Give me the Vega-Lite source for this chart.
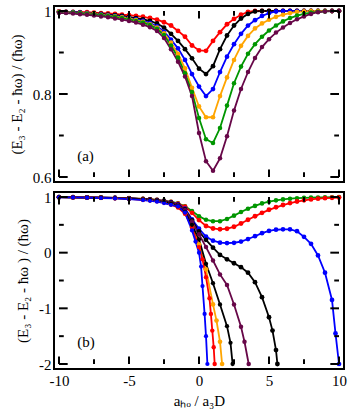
{
  "$schema": "https://vega.github.io/schema/vega-lite/v6.json",
  "padding": {"left": 8, "top": 2, "right": 0, "bottom": 0},
  "spacing": 10,
  "bounds": "flush",
  "config": {
    "view": {"stroke": "black", "strokeWidth": 2},
    "axis": {"domain": false, "grid": false, "ticks": false, "tickSize": 0, "labelFont": "Liberation Serif", "labelFontSize": 15, "labelColor": "black", "titleFont": "Liberation Serif", "titleFontSize": 15, "titleFontWeight": "normal", "titleColor": "black", "labelFlush": false, "labelOverlap": false, "labelBound": false}
  },
  "datasets": {
    "xt": [{"v":-10,"m":1},{"v":-7.5,"m":0},{"v":-5,"m":1},{"v":-2.5,"m":0},{"v":0,"m":1},{"v":2.5,"m":0},{"v":5,"m":1},{"v":7.5,"m":0},{"v":10,"m":1}],
    "ytA": [{"v":0.6,"m":1},{"v":0.7,"m":0},{"v":0.8,"m":1},{"v":0.9,"m":0},{"v":1,"m":1}],
    "ytB": [{"v":-2,"m":1},{"v":-1.5,"m":0},{"v":-1,"m":1},{"v":-0.5,"m":0},{"v":0,"m":1},{"v":0.5,"m":0},{"v":1,"m":1}],
    "top": [
      {"c":"red","x":-10,"y":0.999},{"c":"red","x":-9.5,"y":0.998},{"c":"red","x":-9,"y":0.998},{"c":"red","x":-8.5,"y":0.997},{"c":"red","x":-8,"y":0.997},{"c":"red","x":-7.5,"y":0.996},{"c":"red","x":-7,"y":0.995},{"c":"red","x":-6.5,"y":0.994},{"c":"red","x":-6,"y":0.993},{"c":"red","x":-5.5,"y":0.991},{"c":"red","x":-5,"y":0.990},{"c":"red","x":-4.5,"y":0.988},{"c":"red","x":-4,"y":0.986},{"c":"red","x":-3.5,"y":0.983},{"c":"red","x":-3,"y":0.979},{"c":"red","x":-2.5,"y":0.973},{"c":"red","x":-2,"y":0.965},{"c":"red","x":-1.5,"y":0.952},{"c":"red","x":-1,"y":0.938},{"c":"red","x":-0.5,"y":0.917},{"c":"red","x":0,"y":0.905},{"c":"red","x":0.5,"y":0.904},{"c":"red","x":1,"y":0.928},{"c":"red","x":1.5,"y":0.949},{"c":"red","x":2,"y":0.968},{"c":"red","x":2.5,"y":0.981},{"c":"red","x":3,"y":0.991},{"c":"red","x":3.5,"y":0.998},{"c":"red","x":4,"y":1},{"c":"red","x":4.5,"y":1},{"c":"red","x":5,"y":1},{"c":"red","x":5.5,"y":1},{"c":"red","x":6,"y":1},{"c":"red","x":6.5,"y":1},{"c":"red","x":7,"y":1},{"c":"red","x":7.5,"y":1},{"c":"red","x":8,"y":1},{"c":"red","x":8.5,"y":1},{"c":"red","x":9,"y":1},{"c":"red","x":9.5,"y":1},{"c":"red","x":10,"y":1},
      {"c":"black","x":-10,"y":0.998},{"c":"black","x":-9.5,"y":0.998},{"c":"black","x":-9,"y":0.997},{"c":"black","x":-8.5,"y":0.996},{"c":"black","x":-8,"y":0.995},{"c":"black","x":-7.5,"y":0.994},{"c":"black","x":-7,"y":0.993},{"c":"black","x":-6.5,"y":0.991},{"c":"black","x":-6,"y":0.990},{"c":"black","x":-5.5,"y":0.988},{"c":"black","x":-5,"y":0.985},{"c":"black","x":-4.5,"y":0.983},{"c":"black","x":-4,"y":0.980},{"c":"black","x":-3.5,"y":0.976},{"c":"black","x":-3,"y":0.970},{"c":"black","x":-2.5,"y":0.960},{"c":"black","x":-2,"y":0.945},{"c":"black","x":-1.5,"y":0.928},{"c":"black","x":-1,"y":0.908},{"c":"black","x":-0.5,"y":0.886},{"c":"black","x":0,"y":0.861},{"c":"black","x":0.5,"y":0.848},{"c":"black","x":1,"y":0.867},{"c":"black","x":1.5,"y":0.908},{"c":"black","x":2,"y":0.941},{"c":"black","x":2.5,"y":0.965},{"c":"black","x":3,"y":0.982},{"c":"black","x":3.5,"y":0.993},{"c":"black","x":4,"y":0.999},{"c":"black","x":4.5,"y":1},{"c":"black","x":5,"y":1},{"c":"black","x":5.5,"y":1},{"c":"black","x":6,"y":1},{"c":"black","x":6.5,"y":1},{"c":"black","x":7,"y":1},{"c":"black","x":7.5,"y":1},{"c":"black","x":8,"y":1},{"c":"black","x":8.5,"y":1},{"c":"black","x":9,"y":1},{"c":"black","x":9.5,"y":1},{"c":"black","x":10,"y":1},
      {"c":"blue","x":-10,"y":0.998},{"c":"blue","x":-9.5,"y":0.997},{"c":"blue","x":-9,"y":0.997},{"c":"blue","x":-8.5,"y":0.996},{"c":"blue","x":-8,"y":0.995},{"c":"blue","x":-7.5,"y":0.993},{"c":"blue","x":-7,"y":0.992},{"c":"blue","x":-6.5,"y":0.990},{"c":"blue","x":-6,"y":0.988},{"c":"blue","x":-5.5,"y":0.986},{"c":"blue","x":-5,"y":0.983},{"c":"blue","x":-4.5,"y":0.980},{"c":"blue","x":-4,"y":0.976},{"c":"blue","x":-3.5,"y":0.971},{"c":"blue","x":-3,"y":0.963},{"c":"blue","x":-2.5,"y":0.950},{"c":"blue","x":-2,"y":0.931},{"c":"blue","x":-1.5,"y":0.910},{"c":"blue","x":-1,"y":0.882},{"c":"blue","x":-0.5,"y":0.848},{"c":"blue","x":0,"y":0.818},{"c":"blue","x":0.5,"y":0.795},{"c":"blue","x":1,"y":0.812},{"c":"blue","x":1.5,"y":0.853},{"c":"blue","x":2,"y":0.890},{"c":"blue","x":2.5,"y":0.920},{"c":"blue","x":3,"y":0.945},{"c":"blue","x":3.5,"y":0.965},{"c":"blue","x":4,"y":0.978},{"c":"blue","x":4.5,"y":0.988},{"c":"blue","x":5,"y":0.995},{"c":"blue","x":5.5,"y":0.999},{"c":"blue","x":6,"y":1},{"c":"blue","x":6.5,"y":1},{"c":"blue","x":7,"y":1},{"c":"blue","x":7.5,"y":1},{"c":"blue","x":8,"y":1},{"c":"blue","x":8.5,"y":1},{"c":"blue","x":9,"y":1},{"c":"blue","x":9.5,"y":1},{"c":"blue","x":10,"y":1},
      {"c":"orange","x":-10,"y":0.998},{"c":"orange","x":-9.5,"y":0.997},{"c":"orange","x":-9,"y":0.996},{"c":"orange","x":-8.5,"y":0.995},{"c":"orange","x":-8,"y":0.994},{"c":"orange","x":-7.5,"y":0.993},{"c":"orange","x":-7,"y":0.991},{"c":"orange","x":-6.5,"y":0.989},{"c":"orange","x":-6,"y":0.987},{"c":"orange","x":-5.5,"y":0.985},{"c":"orange","x":-5,"y":0.982},{"c":"orange","x":-4.5,"y":0.978},{"c":"orange","x":-4,"y":0.974},{"c":"orange","x":-3.5,"y":0.968},{"c":"orange","x":-3,"y":0.960},{"c":"orange","x":-2.5,"y":0.946},{"c":"orange","x":-2,"y":0.924},{"c":"orange","x":-1.5,"y":0.897},{"c":"orange","x":-1,"y":0.862},{"c":"orange","x":-0.5,"y":0.815},{"c":"orange","x":0,"y":0.770},{"c":"orange","x":0.5,"y":0.744},{"c":"orange","x":1,"y":0.744},{"c":"orange","x":1.5,"y":0.795},{"c":"orange","x":2,"y":0.840},{"c":"orange","x":2.5,"y":0.882},{"c":"orange","x":3,"y":0.916},{"c":"orange","x":3.5,"y":0.940},{"c":"orange","x":4,"y":0.958},{"c":"orange","x":4.5,"y":0.970},{"c":"orange","x":5,"y":0.979},{"c":"orange","x":5.5,"y":0.986},{"c":"orange","x":6,"y":0.991},{"c":"orange","x":6.5,"y":0.995},{"c":"orange","x":7,"y":0.998},{"c":"orange","x":7.5,"y":0.999},{"c":"orange","x":8,"y":1},{"c":"orange","x":8.5,"y":1},{"c":"orange","x":9,"y":1},{"c":"orange","x":9.5,"y":1},{"c":"orange","x":10,"y":1},
      {"c":"green","x":-10,"y":0.997},{"c":"green","x":-9.5,"y":0.996},{"c":"green","x":-9,"y":0.996},{"c":"green","x":-8.5,"y":0.995},{"c":"green","x":-8,"y":0.993},{"c":"green","x":-7.5,"y":0.992},{"c":"green","x":-7,"y":0.990},{"c":"green","x":-6.5,"y":0.988},{"c":"green","x":-6,"y":0.986},{"c":"green","x":-5.5,"y":0.983},{"c":"green","x":-5,"y":0.980},{"c":"green","x":-4.5,"y":0.976},{"c":"green","x":-4,"y":0.972},{"c":"green","x":-3.5,"y":0.966},{"c":"green","x":-3,"y":0.957},{"c":"green","x":-2.5,"y":0.942},{"c":"green","x":-2,"y":0.917},{"c":"green","x":-1.5,"y":0.888},{"c":"green","x":-1,"y":0.850},{"c":"green","x":-0.5,"y":0.805},{"c":"green","x":0,"y":0.742},{"c":"green","x":0.5,"y":0.691},{"c":"green","x":1,"y":0.682},{"c":"green","x":1.5,"y":0.718},{"c":"green","x":2,"y":0.772},{"c":"green","x":2.5,"y":0.826},{"c":"green","x":3,"y":0.866},{"c":"green","x":3.5,"y":0.897},{"c":"green","x":4,"y":0.920},{"c":"green","x":4.5,"y":0.938},{"c":"green","x":5,"y":0.953},{"c":"green","x":5.5,"y":0.965},{"c":"green","x":6,"y":0.975},{"c":"green","x":6.5,"y":0.983},{"c":"green","x":7,"y":0.989},{"c":"green","x":7.5,"y":0.993},{"c":"green","x":8,"y":0.996},{"c":"green","x":8.5,"y":0.998},{"c":"green","x":9,"y":0.999},{"c":"green","x":9.5,"y":1},{"c":"green","x":10,"y":1},
      {"c":"maroon","x":-10,"y":0.995},{"c":"maroon","x":-9.5,"y":0.995},{"c":"maroon","x":-9,"y":0.994},{"c":"maroon","x":-8.5,"y":0.992},{"c":"maroon","x":-8,"y":0.991},{"c":"maroon","x":-7.5,"y":0.989},{"c":"maroon","x":-7,"y":0.987},{"c":"maroon","x":-6.5,"y":0.985},{"c":"maroon","x":-6,"y":0.982},{"c":"maroon","x":-5.5,"y":0.979},{"c":"maroon","x":-5,"y":0.976},{"c":"maroon","x":-4.5,"y":0.972},{"c":"maroon","x":-4,"y":0.967},{"c":"maroon","x":-3.5,"y":0.961},{"c":"maroon","x":-3,"y":0.952},{"c":"maroon","x":-2.5,"y":0.935},{"c":"maroon","x":-2,"y":0.908},{"c":"maroon","x":-1.5,"y":0.878},{"c":"maroon","x":-1,"y":0.842},{"c":"maroon","x":-0.5,"y":0.795},{"c":"maroon","x":0,"y":0.706},{"c":"maroon","x":0.5,"y":0.638},{"c":"maroon","x":1,"y":0.615},{"c":"maroon","x":1.5,"y":0.645},{"c":"maroon","x":2,"y":0.698},{"c":"maroon","x":2.5,"y":0.760},{"c":"maroon","x":3,"y":0.812},{"c":"maroon","x":3.5,"y":0.853},{"c":"maroon","x":4,"y":0.887},{"c":"maroon","x":4.5,"y":0.913},{"c":"maroon","x":5,"y":0.932},{"c":"maroon","x":5.5,"y":0.948},{"c":"maroon","x":6,"y":0.960},{"c":"maroon","x":6.5,"y":0.971},{"c":"maroon","x":7,"y":0.980},{"c":"maroon","x":7.5,"y":0.987},{"c":"maroon","x":8,"y":0.993},{"c":"maroon","x":8.5,"y":0.997},{"c":"maroon","x":9,"y":0.999},{"c":"maroon","x":9.5,"y":1},{"c":"maroon","x":10,"y":1}
    ],
    "bot": [
      {"c":"green","x":-10,"y":0.998},{"c":"green","x":-9,"y":0.996},{"c":"green","x":-8,"y":0.993},{"c":"green","x":-7,"y":0.989},{"c":"green","x":-6,"y":0.985},{"c":"green","x":-5,"y":0.978},{"c":"green","x":-4,"y":0.968},{"c":"green","x":-3.5,"y":0.96},{"c":"green","x":-3,"y":0.95},{"c":"green","x":-2.5,"y":0.935},{"c":"green","x":-2,"y":0.915},{"c":"green","x":-1.5,"y":0.885},{"c":"green","x":-1,"y":0.835},{"c":"green","x":-0.5,"y":0.75},{"c":"green","x":0,"y":0.655},{"c":"green","x":0.5,"y":0.59},{"c":"green","x":1,"y":0.565},{"c":"green","x":1.5,"y":0.565},{"c":"green","x":2,"y":0.605},{"c":"green","x":2.5,"y":0.665},{"c":"green","x":3,"y":0.73},{"c":"green","x":3.5,"y":0.79},{"c":"green","x":4,"y":0.84},{"c":"green","x":4.5,"y":0.885},{"c":"green","x":5,"y":0.915},{"c":"green","x":5.5,"y":0.94},{"c":"green","x":6,"y":0.957},{"c":"green","x":6.5,"y":0.97},{"c":"green","x":7,"y":0.978},{"c":"green","x":7.5,"y":0.984},{"c":"green","x":8,"y":0.989},{"c":"green","x":8.5,"y":0.992},{"c":"green","x":9,"y":0.995},{"c":"green","x":9.5,"y":0.997},{"c":"green","x":10,"y":0.998},
      {"c":"red","x":-10,"y":0.998},{"c":"red","x":-9,"y":0.996},{"c":"red","x":-8,"y":0.993},{"c":"red","x":-7,"y":0.989},{"c":"red","x":-6,"y":0.984},{"c":"red","x":-5,"y":0.977},{"c":"red","x":-4,"y":0.966},{"c":"red","x":-3.5,"y":0.958},{"c":"red","x":-3,"y":0.947},{"c":"red","x":-2.5,"y":0.931},{"c":"red","x":-2,"y":0.91},{"c":"red","x":-1.5,"y":0.878},{"c":"red","x":-1,"y":0.825},{"c":"red","x":-0.5,"y":0.715},{"c":"red","x":0,"y":0.585},{"c":"red","x":0.5,"y":0.48},{"c":"red","x":1,"y":0.435},{"c":"red","x":1.5,"y":0.42},{"c":"red","x":2,"y":0.43},{"c":"red","x":2.5,"y":0.465},{"c":"red","x":3,"y":0.525},{"c":"red","x":3.5,"y":0.59},{"c":"red","x":4,"y":0.655},{"c":"red","x":4.5,"y":0.715},{"c":"red","x":5,"y":0.77},{"c":"red","x":5.5,"y":0.815},{"c":"red","x":6,"y":0.855},{"c":"red","x":6.5,"y":0.89},{"c":"red","x":7,"y":0.918},{"c":"red","x":7.5,"y":0.94},{"c":"red","x":8,"y":0.957},{"c":"red","x":8.5,"y":0.97},{"c":"red","x":9,"y":0.979},{"c":"red","x":9.5,"y":0.986},{"c":"red","x":10,"y":0.99},
      {"c":"blue","x":-10,"y":0.997},{"c":"blue","x":-9,"y":0.995},{"c":"blue","x":-8,"y":0.992},{"c":"blue","x":-7,"y":0.988},{"c":"blue","x":-6,"y":0.983},{"c":"blue","x":-5,"y":0.975},{"c":"blue","x":-4,"y":0.963},{"c":"blue","x":-3.5,"y":0.954},{"c":"blue","x":-3,"y":0.942},{"c":"blue","x":-2.5,"y":0.925},{"c":"blue","x":-2,"y":0.902},{"c":"blue","x":-1.5,"y":0.868},{"c":"blue","x":-1,"y":0.79},{"c":"blue","x":-0.5,"y":0.6},{"c":"blue","x":0,"y":0.43},{"c":"blue","x":0.5,"y":0.29},{"c":"blue","x":1,"y":0.215},{"c":"blue","x":1.5,"y":0.18},{"c":"blue","x":2,"y":0.172},{"c":"blue","x":2.5,"y":0.178},{"c":"blue","x":3,"y":0.2},{"c":"blue","x":3.5,"y":0.245},{"c":"blue","x":4,"y":0.295},{"c":"blue","x":4.5,"y":0.35},{"c":"blue","x":5,"y":0.39},{"c":"blue","x":5.5,"y":0.412},{"c":"blue","x":6,"y":0.42},{"c":"blue","x":6.5,"y":0.42},{"c":"blue","x":7,"y":0.385},{"c":"blue","x":7.5,"y":0.285},{"c":"blue","x":8,"y":0.16},{"c":"blue","x":8.5,"y":-0.05},{"c":"blue","x":9,"y":-0.36},{"c":"blue","x":9.5,"y":-0.85},{"c":"blue","x":9.75,"y":-1.45},{"c":"blue","x":10,"y":-2.0},
      {"c":"black","x":-10,"y":0.997},{"c":"black","x":-9,"y":0.995},{"c":"black","x":-8,"y":0.992},{"c":"black","x":-7,"y":0.988},{"c":"black","x":-6,"y":0.983},{"c":"black","x":-5,"y":0.975},{"c":"black","x":-4,"y":0.962},{"c":"black","x":-3.5,"y":0.953},{"c":"black","x":-3,"y":0.94},{"c":"black","x":-2.5,"y":0.922},{"c":"black","x":-2,"y":0.897},{"c":"black","x":-1.5,"y":0.86},{"c":"black","x":-1,"y":0.775},{"c":"black","x":-0.5,"y":0.58},{"c":"black","x":0,"y":0.38},{"c":"black","x":0.5,"y":0.23},{"c":"black","x":1,"y":0.09},{"c":"black","x":1.5,"y":-0.04},{"c":"black","x":2,"y":-0.12},{"c":"black","x":2.5,"y":-0.19},{"c":"black","x":3,"y":-0.26},{"c":"black","x":3.5,"y":-0.36},{"c":"black","x":4,"y":-0.53},{"c":"black","x":4.5,"y":-0.8},{"c":"black","x":5,"y":-1.16},{"c":"black","x":5.25,"y":-1.4},{"c":"black","x":5.5,"y":-1.75},{"c":"black","x":5.6,"y":-2.0},
      {"c":"maroon","x":-10,"y":0.997},{"c":"maroon","x":-9,"y":0.995},{"c":"maroon","x":-8,"y":0.991},{"c":"maroon","x":-7,"y":0.987},{"c":"maroon","x":-6,"y":0.982},{"c":"maroon","x":-5,"y":0.973},{"c":"maroon","x":-4,"y":0.96},{"c":"maroon","x":-3.5,"y":0.95},{"c":"maroon","x":-3,"y":0.937},{"c":"maroon","x":-2.5,"y":0.918},{"c":"maroon","x":-2,"y":0.89},{"c":"maroon","x":-1.5,"y":0.85},{"c":"maroon","x":-1,"y":0.765},{"c":"maroon","x":-0.5,"y":0.56},{"c":"maroon","x":0,"y":0.33},{"c":"maroon","x":0.5,"y":0.1},{"c":"maroon","x":1,"y":-0.14},{"c":"maroon","x":1.5,"y":-0.39},{"c":"maroon","x":2,"y":-0.58},{"c":"maroon","x":2.5,"y":-0.93},{"c":"maroon","x":3,"y":-1.33},{"c":"maroon","x":3.25,"y":-1.6},{"c":"maroon","x":3.55,"y":-2.0},
      {"c":"orange","x":-10,"y":0.996},{"c":"orange","x":-9,"y":0.993},{"c":"orange","x":-8,"y":0.99},{"c":"orange","x":-7,"y":0.985},{"c":"orange","x":-6,"y":0.979},{"c":"orange","x":-5,"y":0.968},{"c":"orange","x":-4,"y":0.953},{"c":"orange","x":-3.5,"y":0.942},{"c":"orange","x":-3,"y":0.928},{"c":"orange","x":-2.5,"y":0.905},{"c":"orange","x":-2,"y":0.872},{"c":"orange","x":-1.5,"y":0.82},{"c":"orange","x":-1,"y":0.71},{"c":"orange","x":-0.5,"y":0.48},{"c":"orange","x":0,"y":0.15},{"c":"orange","x":0.5,"y":-0.3},{"c":"orange","x":1,"y":-0.93},{"c":"orange","x":1.25,"y":-1.22},{"c":"orange","x":1.5,"y":-1.6},{"c":"orange","x":1.65,"y":-2.0},
      {"c":"violet","x":-10,"y":0.996},{"c":"violet","x":-9,"y":0.993},{"c":"violet","x":-8,"y":0.989},{"c":"violet","x":-7,"y":0.984},{"c":"violet","x":-6,"y":0.978},{"c":"violet","x":-5,"y":0.967},{"c":"violet","x":-4,"y":0.951},{"c":"violet","x":-3.5,"y":0.94},{"c":"violet","x":-3,"y":0.925},{"c":"violet","x":-2.5,"y":0.9},{"c":"violet","x":-2,"y":0.865},{"c":"violet","x":-1.5,"y":0.81},{"c":"violet","x":-1,"y":0.7},{"c":"violet","x":-0.5,"y":0.45},{"c":"violet","x":0,"y":0.1},{"c":"violet","x":0.25,"y":-0.12},{"c":"violet","x":0.5,"y":-0.44},{"c":"violet","x":0.75,"y":-0.82},{"c":"violet","x":0.85,"y":-1.1},{"c":"violet","x":0.95,"y":-1.4},{"c":"violet","x":1.05,"y":-1.7},{"c":"violet","x":1.12,"y":-2.0},
      {"c":"cyan","x":-10,"y":0.996},{"c":"cyan","x":-9,"y":0.994},{"c":"cyan","x":-8,"y":0.99},{"c":"cyan","x":-7,"y":0.986},{"c":"cyan","x":-6,"y":0.98},{"c":"cyan","x":-5,"y":0.97},{"c":"cyan","x":-4,"y":0.956},{"c":"cyan","x":-3.5,"y":0.946},{"c":"cyan","x":-3,"y":0.932},{"c":"cyan","x":-2.5,"y":0.912},{"c":"cyan","x":-2,"y":0.882},{"c":"cyan","x":-1.5,"y":0.835},{"c":"cyan","x":-1,"y":0.73},{"c":"cyan","x":-0.5,"y":0.5},{"c":"cyan","x":0,"y":0.24},{"c":"cyan","x":0.5,"y":-0.2},{"c":"cyan","x":1,"y":-0.55},{"c":"cyan","x":1.5,"y":-0.93},{"c":"cyan","x":2,"y":-1.32},{"c":"cyan","x":2.25,"y":-1.62},{"c":"cyan","x":2.4,"y":-2.0},
      {"c":"turquoise","x":-10,"y":0.995},{"c":"turquoise","x":-9,"y":0.992},{"c":"turquoise","x":-8,"y":0.988},{"c":"turquoise","x":-7,"y":0.982},{"c":"turquoise","x":-6,"y":0.975},{"c":"turquoise","x":-5,"y":0.962},{"c":"turquoise","x":-4,"y":0.945},{"c":"turquoise","x":-3.5,"y":0.932},{"c":"turquoise","x":-3,"y":0.915},{"c":"turquoise","x":-2.5,"y":0.89},{"c":"turquoise","x":-2,"y":0.86},{"c":"turquoise","x":-1.5,"y":0.83},{"c":"turquoise","x":-1,"y":0.72},{"c":"turquoise","x":-0.5,"y":0.4},{"c":"turquoise","x":-0.25,"y":0.2},{"c":"turquoise","x":0,"y":0.0},{"c":"turquoise","x":0.15,"y":-0.25},{"c":"turquoise","x":0.25,"y":-0.6},{"c":"turquoise","x":0.4,"y":-1.1},{"c":"turquoise","x":0.5,"y":-1.5},{"c":"turquoise","x":0.6,"y":-2.0}
    ],
    "labels": [{"panel": "a", "text": "(a)"}, {"panel": "b", "text": "(b)"}]
  },
  "vconcat": [
    {
      "width": 290,
      "height": 176,
      "data": {"name": "top"},
      "layer": [
        {
          "mark": {"type": "line", "strokeWidth": 1.8, "clip": true},
          "encoding": {
            "x": {"field": "x", "type": "quantitative", "scale": {"domain": [-10, 10], "nice": false, "zero": false},
              "axis": {"orient": "bottom", "values": [-10, -5, 0, 5, 10], "labels": false, "title": null}},
            "y": {"field": "y", "type": "quantitative", "scale": {"domain": [0.6, 1], "nice": false, "zero": false},
              "axis": {"orient": "left", "values": [0.6, 0.8, 1], "title": "(E₃ - E₂ - ħω) / (ħω)", "titlePadding": 8, "labelPadding": 3,
                "labelExpr": "datum.value == 1 ? '1' : (datum.value == 0.8 ? '0.8' : '0.6')"}},
            "color": {"field": "c", "type": "nominal", "legend": null,
              "scale": {"domain": ["red", "black", "blue", "orange", "green", "maroon"], "range": ["#ff0000", "#000000", "#0000ff", "#ffa500", "#009600", "#670748"]}}
          }
        },
        {
          "mark": {"type": "point", "filled": true, "opacity": 1, "clip": true},
          "encoding": {
            "x": {"field": "x", "type": "quantitative", "axis": null},
            "y": {"field": "y", "type": "quantitative", "axis": null},
            "color": {"field": "c", "type": "nominal", "legend": null},
            "size": {"field": "c", "type": "nominal", "legend": null,
              "scale": {"domain": ["red", "black", "blue", "orange", "green", "maroon"], "range": [24, 18, 18, 12, 12, 9]}}
          }
        },
        {
          "data": {"name": "labels"},
          "transform": [{"filter": "datum.panel == 'a'"}],
          "mark": {"type": "text", "font": "Liberation Serif", "fontSize": 15, "align": "left", "baseline": "middle", "fill": "black"},
          "encoding": {
            "x": {"datum": -8.7, "type": "quantitative", "axis": null},
            "y": {"datum": 0.65, "type": "quantitative", "axis": null},
            "text": {"field": "text"}
          }
        },
        {"data": {"name": "xt"}, "transform": [{"filter": "datum.m == 1"}], "mark": {"type": "bar", "color": "black", "size": 2, "clip": true},
          "encoding": {"x": {"field": "v", "type": "quantitative", "axis": null}, "y": {"datum": 0.6, "type": "quantitative", "axis": null}, "y2": {"datum": 0.618}}},
        {"data": {"name": "xt"}, "transform": [{"filter": "datum.m == 0"}], "mark": {"type": "bar", "color": "black", "size": 2, "clip": true},
          "encoding": {"x": {"field": "v", "type": "quantitative", "axis": null}, "y": {"datum": 0.6, "type": "quantitative", "axis": null}, "y2": {"datum": 0.6114}}},
        {"data": {"name": "xt"}, "transform": [{"filter": "datum.m == 1"}], "mark": {"type": "bar", "color": "black", "size": 2, "clip": true},
          "encoding": {"x": {"field": "v", "type": "quantitative", "axis": null}, "y": {"datum": 1, "type": "quantitative", "axis": null}, "y2": {"datum": 0.982}}},
        {"data": {"name": "xt"}, "transform": [{"filter": "datum.m == 0"}], "mark": {"type": "bar", "color": "black", "size": 2, "clip": true},
          "encoding": {"x": {"field": "v", "type": "quantitative", "axis": null}, "y": {"datum": 1, "type": "quantitative", "axis": null}, "y2": {"datum": 0.9886}}},
        {"data": {"name": "ytA"}, "transform": [{"filter": "datum.m == 1"}], "mark": {"type": "bar", "color": "black", "size": 2, "clip": true},
          "encoding": {"y": {"field": "v", "type": "quantitative", "axis": null}, "x": {"datum": -10, "type": "quantitative", "axis": null}, "x2": {"datum": -9.38}}},
        {"data": {"name": "ytA"}, "transform": [{"filter": "datum.m == 0"}], "mark": {"type": "bar", "color": "black", "size": 2, "clip": true},
          "encoding": {"y": {"field": "v", "type": "quantitative", "axis": null}, "x": {"datum": -10, "type": "quantitative", "axis": null}, "x2": {"datum": -9.66}}},
        {"data": {"name": "ytA"}, "transform": [{"filter": "datum.m == 1"}], "mark": {"type": "bar", "color": "black", "size": 2, "clip": true},
          "encoding": {"y": {"field": "v", "type": "quantitative", "axis": null}, "x": {"datum": 10, "type": "quantitative", "axis": null}, "x2": {"datum": 9.38}}},
        {"data": {"name": "ytA"}, "transform": [{"filter": "datum.m == 0"}], "mark": {"type": "bar", "color": "black", "size": 2, "clip": true},
          "encoding": {"y": {"field": "v", "type": "quantitative", "axis": null}, "x": {"datum": 10, "type": "quantitative", "axis": null}, "x2": {"datum": 9.66}}}
      ],
      "resolve": {"axis": {"x": "independent", "y": "independent"}}
    },
    {
      "width": 290,
      "height": 177,
      "data": {"name": "bot"},
      "layer": [
        {
          "mark": {"type": "line", "strokeWidth": 1.8, "clip": true},
          "encoding": {
            "x": {"field": "x", "type": "quantitative", "scale": {"domain": [-10, 10], "nice": false, "zero": false},
              "axis": {"orient": "bottom", "values": [-10, -5, 0, 5, 10], "title": "aₕₒ / a₃D", "titlePadding": 5, "labelPadding": 4,
                "labelExpr": "'' + datum.value"}},
            "y": {"field": "y", "type": "quantitative", "scale": {"domain": [-2, 1], "nice": false, "zero": false},
              "axis": {"orient": "left", "values": [-2, -1, 0, 1], "title": "(E₃ - E₂ - ħω ) / (ħω)", "titlePadding": 8, "labelPadding": 3,
                "labelExpr": "'' + datum.value"}},
            "color": {"field": "c", "type": "nominal", "legend": null,
              "scale": {"domain": ["green", "red", "blue", "black", "maroon", "orange", "violet", "cyan", "turquoise"], "range": ["#009600", "#ff0000", "#0000ff", "#000000", "#670748", "#ffa500", "#7221bc", "#00ffff", "#40e0d0"]}}
          }
        },
        {
          "mark": {"type": "point", "filled": true, "opacity": 1, "clip": true},
          "encoding": {
            "x": {"field": "x", "type": "quantitative", "axis": null},
            "y": {"field": "y", "type": "quantitative", "axis": null},
            "color": {"field": "c", "type": "nominal", "legend": null},
            "size": {"field": "c", "type": "nominal", "legend": null,
              "scale": {"domain": ["green", "red", "blue", "black", "maroon", "orange", "violet", "cyan", "turquoise"], "range": [8, 8, 10, 8, 7, 7, 7, 7, 7]}}
          }
        },
        {
          "data": {"name": "labels"},
          "transform": [{"filter": "datum.panel == 'b'"}],
          "mark": {"type": "text", "font": "Liberation Serif", "fontSize": 15, "align": "left", "baseline": "middle", "fill": "black"},
          "encoding": {
            "x": {"datum": -8.7, "type": "quantitative", "axis": null},
            "y": {"datum": -1.61, "type": "quantitative", "axis": null},
            "text": {"field": "text"}
          }
        },
        {"data": {"name": "xt"}, "transform": [{"filter": "datum.m == 1"}], "mark": {"type": "bar", "color": "black", "size": 2, "clip": true},
          "encoding": {"x": {"field": "v", "type": "quantitative", "axis": null}, "y": {"datum": -2, "type": "quantitative", "axis": null}, "y2": {"datum": -1.864}}},
        {"data": {"name": "xt"}, "transform": [{"filter": "datum.m == 0"}], "mark": {"type": "bar", "color": "black", "size": 2, "clip": true},
          "encoding": {"x": {"field": "v", "type": "quantitative", "axis": null}, "y": {"datum": -2, "type": "quantitative", "axis": null}, "y2": {"datum": -1.915}}},
        {"data": {"name": "xt"}, "transform": [{"filter": "datum.m == 1"}], "mark": {"type": "bar", "color": "black", "size": 2, "clip": true},
          "encoding": {"x": {"field": "v", "type": "quantitative", "axis": null}, "y": {"datum": 1, "type": "quantitative", "axis": null}, "y2": {"datum": 0.864}}},
        {"data": {"name": "xt"}, "transform": [{"filter": "datum.m == 0"}], "mark": {"type": "bar", "color": "black", "size": 2, "clip": true},
          "encoding": {"x": {"field": "v", "type": "quantitative", "axis": null}, "y": {"datum": 1, "type": "quantitative", "axis": null}, "y2": {"datum": 0.915}}},
        {"data": {"name": "ytB"}, "transform": [{"filter": "datum.m == 1"}], "mark": {"type": "bar", "color": "black", "size": 2, "clip": true},
          "encoding": {"y": {"field": "v", "type": "quantitative", "axis": null}, "x": {"datum": -10, "type": "quantitative", "axis": null}, "x2": {"datum": -9.38}}},
        {"data": {"name": "ytB"}, "transform": [{"filter": "datum.m == 0"}], "mark": {"type": "bar", "color": "black", "size": 2, "clip": true},
          "encoding": {"y": {"field": "v", "type": "quantitative", "axis": null}, "x": {"datum": -10, "type": "quantitative", "axis": null}, "x2": {"datum": -9.66}}},
        {"data": {"name": "ytB"}, "transform": [{"filter": "datum.m == 1"}], "mark": {"type": "bar", "color": "black", "size": 2, "clip": true},
          "encoding": {"y": {"field": "v", "type": "quantitative", "axis": null}, "x": {"datum": 10, "type": "quantitative", "axis": null}, "x2": {"datum": 9.38}}},
        {"data": {"name": "ytB"}, "transform": [{"filter": "datum.m == 0"}], "mark": {"type": "bar", "color": "black", "size": 2, "clip": true},
          "encoding": {"y": {"field": "v", "type": "quantitative", "axis": null}, "x": {"datum": 10, "type": "quantitative", "axis": null}, "x2": {"datum": 9.66}}}
      ],
      "resolve": {"axis": {"x": "independent", "y": "independent"}}
    }
  ]
}
